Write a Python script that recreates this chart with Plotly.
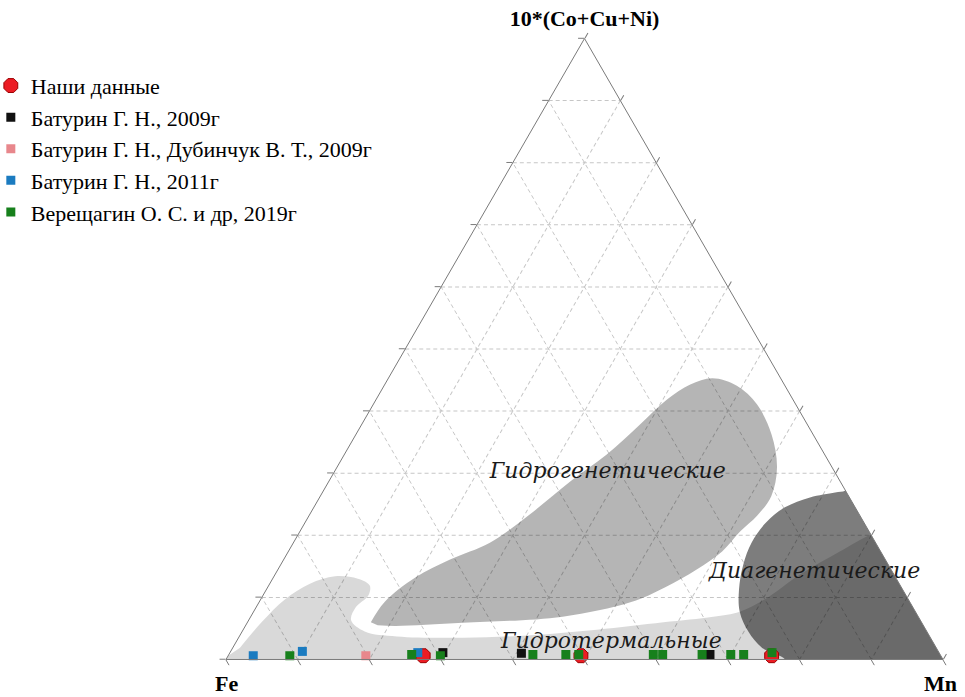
import plotly.graph_objects as go

# Ternary diagram (Bonatti et al.): A = 10*(Co+Cu+Ni), B = Fe, C = Mn; values in % of the sum.

# --- sample data (a = 10*(Co+Cu+Ni), b = Fe, c = Mn) ---
ours_a = [0.6, 0.6, 0.6]
ours_b = [72.2, 50.2, 23.6]
ours_c = [27.2, 49.2, 75.8]

bat2009_a = [1.1, 1.0, 0.8]
bat2009_b = [69.2, 58.3, 32.1]
bat2009_c = [29.7, 40.7, 67.1]

batdub2009_a = [0.6]
batdub2009_b = [80.2]
batdub2009_c = [19.2]

bat2011_a = [0.6, 1.3, 1.1]
bat2011_b = [95.9, 88.7, 72.7]
bat2011_c = [3.5, 10.0, 26.2]

ver2019_a = [0.6, 0.8, 0.6, 0.8, 0.8, 0.8, 0.8, 0.8, 0.8, 0.8, 0.8, 1.1]
ver2019_b = [90.8, 73.7, 69.8, 56.8, 52.2, 50.4, 40.0, 38.7, 33.2, 29.2, 27.4, 23.3]
ver2019_c = [8.6, 25.5, 29.6, 42.4, 47.0, 48.8, 59.2, 60.5, 66.0, 70.0, 71.8, 75.6]

series_names = [
    "Наши данные",
    "Батурин Г. Н., 2009г",
    "Батурин Г. Н., Дубинчук В. Т., 2009г",
    "Батурин Г. Н., 2011г",
    "Верещагин О. С. и др, 2019г",
]

# --- genetic fields (outlines as a, c; b = 100 - a - c) ---
# points slightly beyond the triangle sides are clipped by the ternary frame
hydrothermal_a = [-2, -2, -2, 20.5, 20.1, 17.4, 13.7, 9.7, 7.7, 6.9, 6.0, 4.8, 3.9, 3.5,
                  3.7, 4.5, 6.3, 8.4, 10.3, 11.9, 13.0, 13.4, 12.2, 9.7, 6.1, 1.9]
hydrothermal_c = [-2, 50, 104, 81.5, 79.9, 76.9, 73.2, 70.3, 67.8, 64.5, 58.0, 49.3, 40.5, 31.3,
                  22.0, 17.1, 14.3, 13.9, 14.7, 14.1, 11.9, 8.5, 5.6, 3.4, 2.0, 1.0]

hydrogenetic_a = [6.0, 9.3, 13.2, 16.1, 18.8, 23.4, 28.7, 33.0, 37.8, 41.9, 44.3, 45.3, 44.1,
                  41.1, 36.2, 30.9, 26.3, 23.2, 20.6, 17.4, 14.5, 11.6, 9.2, 6.9, 5.9, 5.4, 5.5]
hydrogenetic_c = [17.2, 17.5, 19.8, 23.2, 27.4, 30.7, 33.7, 36.6, 38.8, 40.6, 42.6, 45.2, 49.2,
                  53.5, 58.0, 61.4, 62.9, 62.5, 61.4, 60.5, 58.4, 55.4, 51.8, 43.5, 30.1, 21.0, 18.4]

diagenetic_a = [-2, 0, 1.9, 4.5, 7.7, 11.3, 15.3, 18.8, 22.1, 24.5, 26.1, 26.9, 27.2,
                29.0, 15.0, -2]
diagenetic_c = [79.5, 78.0, 73.8, 70.6, 67.8, 65.9, 64.5, 63.9, 64.3, 65.7, 68.4, 71.5, 72.8,
                73.5, 88.0, 104]

field_names = ["Гидрогенетические", "Диагенетические", "Гидротермальные"]
field_label_a = [30.1, 14.0, 2.7]
field_label_c = [38.2, 75.1, 52.4]

SERIF = "Liberation Serif"

fig = go.Figure()


def field(a, c, color):
    fig.add_trace(go.Scatterternary(
        a=a, c=c, mode="lines", fill="toself", fillcolor=color,
        line=dict(width=0, shape="spline", smoothing=1, color=color),
        hoverinfo="skip", showlegend=False,
    ))


field(hydrothermal_a, hydrothermal_c, "rgba(0,0,0,0.15)")
field(hydrogenetic_a, hydrogenetic_c, "rgba(0,0,0,0.29)")
field(diagenetic_a, diagenetic_c, "rgba(0,0,0,0.51)")

# field captions
fig.add_trace(go.Scatterternary(
    a=field_label_a, c=field_label_c, text=field_names, mode="text",
    textfont=dict(family="DejaVu Serif", size=22, style="italic", color="#1a1a1a"),
    cliponaxis=False, hoverinfo="skip", showlegend=False,
))

point_sets = [
    (ours_a, ours_b, ours_c, "#ec1c24", "octagon", 15, dict(color="#9a0000", width=1)),
    (bat2009_a, bat2009_b, bat2009_c, "#111111", "square", 9, dict(width=0)),
    (batdub2009_a, batdub2009_b, batdub2009_c, "#e8878c", "square", 9, dict(width=0)),
    (bat2011_a, bat2011_b, bat2011_c, "#1b7bc0", "square", 9, dict(width=0)),
    (ver2019_a, ver2019_b, ver2019_c, "#17801c", "square", 9, dict(width=0)),
]
for name, (a, b, c, col, sym, size, ln) in zip(series_names, point_sets):
    fig.add_trace(go.Scatterternary(
        a=a, b=b, c=c, name=name, mode="markers",
        marker=dict(color=col, symbol=sym, size=size, line=ln),
        cliponaxis=False,
    ))

axis_style = dict(
    min=0, tickmode="linear", tick0=0, dtick=10,
    showticklabels=False, ticks="outside", ticklen=6, tickcolor="#7a7a7a",
    linecolor="#7a7a7a", linewidth=1, showline=True,
    showgrid=True, gridcolor="#c6c6c6", gridwidth=1, griddash="4px,3px",
    layer="above traces",
)
title_font = dict(family=SERIF, size=22, color="black", weight="bold")

fig.update_layout(
    width=965, height=697,
    margin=dict(l=226, r=22, t=38, b=37, autoexpand=False),
    paper_bgcolor="white",
    font=dict(family=SERIF, color="black"),
    ternary=dict(
        sum=100, bgcolor="white",
        domain=dict(x=[0, 1], y=[0, 1]),
        aaxis=dict(title=dict(text="10*(Co+Cu+Ni)", font=title_font), **axis_style),
        baxis=dict(title=dict(text=""), **axis_style),
        caxis=dict(title=dict(text=""), **axis_style),
    ),
    # corner names for the Fe and Mn apexes
    annotations=[
        dict(text="Fe", x=0, y=-0.037, xref="paper", yref="paper",
             xanchor="center", yanchor="middle", showarrow=False, font=title_font),
        dict(text="Mn", x=0.997, y=-0.037, xref="paper", yref="paper",
             xanchor="center", yanchor="middle", showarrow=False, font=title_font),
    ],
    legend=dict(
        xref="paper", yref="paper", x=-0.328, y=0.957,
        xanchor="left", yanchor="top",
        font=dict(family=SERIF, size=22, color="black"),
        bgcolor="rgba(0,0,0,0)", borderwidth=0, itemsizing="trace",
        tracegroupgap=0,
    ),
)

fig.write_html("out.html")
